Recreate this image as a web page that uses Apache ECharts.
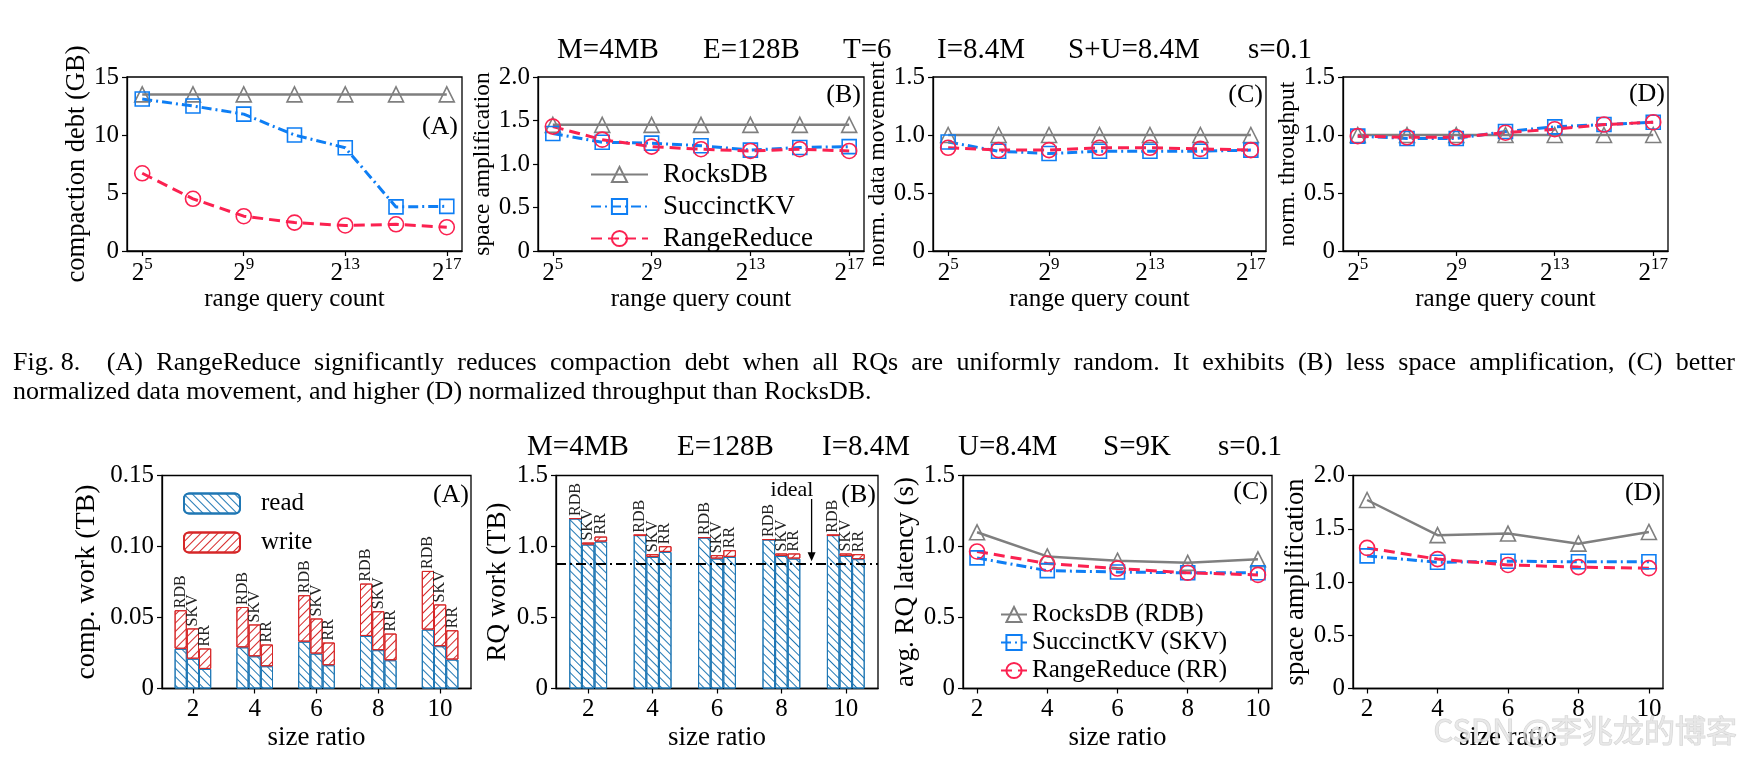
<!DOCTYPE html>
<html>
<head>
<meta charset="utf-8">
<script src="https://cdn.jsdelivr.net/npm/echarts@6/dist/echarts.min.js"></script>
<style>
html, body { margin: 0; padding: 0; background: #fff; }
#main { width: 1740px; height: 760px; }
</style>
</head>
<body>
<div id="main"></div>
<script>
// ---- data: top row, x = log2(range query count) ----
var rqExp = [5, 7, 9, 11, 13, 15, 17];
var debtRocks = [13.5, 13.5, 13.5, 13.5, 13.5, 13.5, 13.5];
var debtSkv = [13.1, 12.5, 11.8, 10.0, 8.9, 3.8, 3.85];
var debtRr = [6.7, 4.5, 3.0, 2.45, 2.2, 2.3, 2.05];
var spaceRocks = [1.45, 1.45, 1.45, 1.45, 1.45, 1.45, 1.45];
var spaceSkv = [1.35, 1.25, 1.24, 1.21, 1.16, 1.19, 1.2];
var spaceRr = [1.43, 1.28, 1.2, 1.17, 1.15, 1.17, 1.15];
var moveRocks = [1.0, 1.0, 1.0, 1.0, 1.0, 1.0, 1.0];
var moveSkv = [0.94, 0.86, 0.84, 0.86, 0.86, 0.86, 0.87];
var moveRr = [0.89, 0.87, 0.87, 0.89, 0.89, 0.88, 0.87];
var tputRocks = [1.0, 1.0, 1.0, 1.0, 1.0, 1.0, 1.0];
var tputSkv = [0.99, 0.97, 0.97, 1.03, 1.07, 1.09, 1.11];
var tputRr = [0.99, 0.98, 0.98, 1.02, 1.05, 1.09, 1.11];

// ---- data: bottom row, size ratio ----
var sizeRatio = [2, 4, 6, 8, 10];
var sizeCats = ['2', '4', '6', '8', '10'];
var compReadRdb = [0.028, 0.029, 0.033, 0.037, 0.0415];
var compWriteRdb = [0.0271, 0.0284, 0.0327, 0.0369, 0.0413];
var compReadSkv = [0.021, 0.0227, 0.0246, 0.027, 0.0298];
var compWriteSkv = [0.0213, 0.0224, 0.0247, 0.0274, 0.0294];
var compReadRr = [0.0138, 0.0157, 0.0164, 0.0199, 0.0204];
var compWriteRr = [0.0144, 0.0153, 0.016, 0.0188, 0.0206];
var rqReadRdb = [1.197, 1.08, 1.063, 1.049, 1.08];
var rqWriteRdb = [0, 0, 0, 0, 0];
var rqReadSkv = [1.014, 0.927, 0.915, 0.934, 0.934];
var rqWriteSkv = [0.014, 0.019, 0.024, 0.017, 0.017];
var rqReadRr = [1.035, 0.962, 0.927, 0.915, 0.911];
var rqWriteRr = [0.035, 0.04, 0.047, 0.036, 0.035];
var rqIdeal = 0.875;
var latRocks = [1.1, 0.93, 0.9, 0.885, 0.91];
var latSkv = [0.92, 0.83, 0.82, 0.815, 0.815];
var latRr = [0.965, 0.88, 0.845, 0.815, 0.8];
var ampRocks = [1.77, 1.44, 1.455, 1.36, 1.47];
var ampSkv = [1.245, 1.185, 1.195, 1.19, 1.19];
var ampRr = [1.32, 1.215, 1.16, 1.14, 1.13];

var SERIF = '"Liberation Serif", "DejaVu Serif", serif';
var GRAY = '#7f7f7f', BLUE = '#0e7ef4', RED = '#fb2150';
var READC = '#1f77b4', WRITEC = '#d62728';

var styles = {
    rocks: { color: GRAY, symbol: 'triangle', type: 'solid', width: 2.5, size: 15 },
    skv: { color: BLUE, symbol: 'rect', type: [10, 4, 2, 4], width: 3, size: 14 },
    rr: { color: RED, symbol: 'circle', type: [11, 6], width: 3, size: 15 }
};

function lineSeries(name, st, xs, ys, idx) {
    return {
        type: 'line', name: name, xAxisIndex: idx, yAxisIndex: idx,
        data: xs.map(function (x, i) { return [x, ys[i]]; }),
        symbol: st.symbol, symbolSize: st.size, color: st.color,
        lineStyle: { color: st.color, width: st.width, type: st.type },
        itemStyle: { color: 'rgba(255,255,255,0)', borderColor: st.color, borderWidth: 1.6 },
        emphasis: { disabled: true }, animation: false
    };
}

function hatch(color, rot) {
    return { symbol: 'rect', symbolSize: 1, dashArrayX: [1, 0], dashArrayY: [1, 5], rotation: rot, color: color };
}

function barSeries(name, stack, vals, idx, bw, label) {
    var isRead = name === 'read';
    var c = isRead ? READC : WRITEC;
    var s = {
        type: 'bar', name: name, stack: stack, xAxisIndex: idx, yAxisIndex: idx,
        data: vals, barWidth: bw, barGap: '0%',
        itemStyle: { color: '#fff', borderColor: c, borderWidth: 1, decal: hatch(c, isRead ? Math.PI / 4 : -Math.PI / 4) },
        emphasis: { disabled: true }, animation: false
    };
    if (label) {
        s.label = {
            show: true, position: 'top', rotate: 90, align: 'left', verticalAlign: 'middle',
            distance: 2, formatter: label, fontSize: 16, fontFamily: SERIF, color: '#222'
        };
    }
    return s;
}

var grids = [
    { left: 127, top: 77, width: 335, height: 174 },
    { left: 538, top: 77, width: 326, height: 174 },
    { left: 933, top: 77, width: 333, height: 174 },
    { left: 1343, top: 77, width: 325, height: 174 },
    { left: 162, top: 475.5, width: 309, height: 213 },
    { left: 556, top: 475.5, width: 322, height: 213 },
    { left: 963, top: 475.5, width: 309, height: 213 },
    { left: 1353, top: 475.5, width: 310, height: 213 }
].map(function (g) {
    g.show = true; g.borderColor = '#000'; g.borderWidth = 1.3; g.backgroundColor = 'transparent';
    return g;
});

var axisCommon = {
    axisLine: { show: true, onZero: false, lineStyle: { color: '#000', width: 1.3 } },
    axisTick: { show: true, inside: false, length: 5, lineStyle: { color: '#000', width: 1.2 } },
    splitLine: { show: false }
};

function xLog(idx) {
    return Object.assign({}, axisCommon, {
        type: 'value', gridIndex: idx, min: 4.4, max: 17.6,
        axisTick: Object.assign({}, axisCommon.axisTick, { customValues: [5, 9, 13, 17] }),
        axisLabel: {
            customValues: [5, 9, 13, 17], margin: 5, color: '#000',
            formatter: function (v) { return '{b|2}{s|' + v + '}'; },
            rich: {
                b: { fontSize: 25, fontFamily: SERIF, color: '#000', verticalAlign: 'bottom', lineHeight: 30 },
                s: { fontSize: 17, fontFamily: SERIF, color: '#000', verticalAlign: 'top', lineHeight: 30 }
            }
        },
        name: 'range query count', nameLocation: 'middle', nameGap: 33,
        nameTextStyle: { fontSize: 25, fontFamily: SERIF, color: '#000' }
    });
}

function xRatio(idx) {
    return Object.assign({}, axisCommon, {
        type: 'value', gridIndex: idx, min: 1.6, max: 10.4,
        axisTick: Object.assign({}, axisCommon.axisTick, { customValues: sizeRatio }),
        axisLabel: { customValues: sizeRatio, margin: 8, fontSize: 25, fontFamily: SERIF, color: '#000' },
        name: 'size ratio', nameLocation: 'middle', nameGap: 36,
        nameTextStyle: { fontSize: 27, fontFamily: SERIF, color: '#000' }
    });
}

function xCat(idx) {
    return Object.assign({}, axisCommon, {
        type: 'category', gridIndex: idx, data: sizeCats,
        axisTick: Object.assign({}, axisCommon.axisTick, { alignWithLabel: true }),
        axisLabel: { margin: 8, fontSize: 25, fontFamily: SERIF, color: '#000' },
        name: 'size ratio', nameLocation: 'middle', nameGap: 36,
        nameTextStyle: { fontSize: 27, fontFamily: SERIF, color: '#000' }
    });
}

function yAxis(idx, max, interval, dec, name, gap, nameSize) {
    return Object.assign({}, axisCommon, {
        type: 'value', gridIndex: idx, min: 0, max: max, interval: interval,
        axisLabel: {
            fontSize: 25, fontFamily: SERIF, color: '#000', margin: 8,
            formatter: function (v) { return v === 0 ? '0' : v.toFixed(dec); }
        },
        name: name, nameLocation: 'middle', nameGap: gap, nameRotate: 90,
        nameTextStyle: { fontSize: nameSize, fontFamily: SERIF, color: '#000' }
    });
}

var xAxes = [xLog(0), xLog(1), xLog(2), xLog(3), xCat(4), xCat(5), xRatio(6), xRatio(7)];
var yAxes = [
    yAxis(0, 15, 5, 0, 'compaction debt (GB)', 29, 26.5),
    yAxis(1, 2, 0.5, 1, 'space amplification', 41, 23.5),
    yAxis(2, 1.5, 0.5, 1, 'norm. data movement', 35, 23.5),
    yAxis(3, 1.5, 0.5, 1, 'norm. throughput', 41, 23.5),
    yAxis(4, 0.15, 0.05, 2, 'comp. work (TB)', 61, 28),
    yAxis(5, 1.5, 0.5, 1, 'RQ work (TB)', 45, 27),
    yAxis(6, 1.5, 0.5, 1, 'avg. RQ latency (s)', 41, 27),
    yAxis(7, 2, 0.5, 1, 'space amplification', 43, 26.5)
];

var series = [];
var topSets = [
    [debtRocks, debtSkv, debtRr],
    [spaceRocks, spaceSkv, spaceRr],
    [moveRocks, moveSkv, moveRr],
    [tputRocks, tputSkv, tputRr]
];
topSets.forEach(function (set, i) {
    series.push(lineSeries('RocksDB', styles.rocks, rqExp, set[0], i));
    series.push(lineSeries('SuccinctKV', styles.skv, rqExp, set[1], i));
    series.push(lineSeries('RangeReduce', styles.rr, rqExp, set[2], i));
});

// bottom A: compaction work
series.push(barSeries('read', 'compRdb', compReadRdb, 4, 12.2));
series.push(barSeries('write', 'compRdb', compWriteRdb, 4, 12.2, 'RDB'));
series.push(barSeries('read', 'compSkv', compReadSkv, 4, 12.2));
series.push(barSeries('write', 'compSkv', compWriteSkv, 4, 12.2, 'SKV'));
series.push(barSeries('read', 'compRr', compReadRr, 4, 12.2));
series.push(barSeries('write', 'compRr', compWriteRr, 4, 12.2, 'RR'));

// bottom B: range query work
var rqRdb = barSeries('read', 'rqRdb', rqReadRdb, 5, 12.6);
rqRdb.markLine = {
    silent: true, symbol: 'none', animation: false,
    label: { show: false },
    lineStyle: { color: '#000', width: 2, type: [10, 4, 2, 4] },
    data: [{ yAxis: rqIdeal }]
};
series.push(rqRdb);
series.push(barSeries('write', 'rqRdb', rqWriteRdb, 5, 12.6, 'RDB'));
series.push(barSeries('read', 'rqSkv', rqReadSkv, 5, 12.6));
series.push(barSeries('write', 'rqSkv', rqWriteSkv, 5, 12.6, 'SKV'));
series.push(barSeries('read', 'rqRr', rqReadRr, 5, 12.6));
series.push(barSeries('write', 'rqRr', rqWriteRr, 5, 12.6, 'RR'));

// bottom C, D
series.push(lineSeries('RocksDB (RDB)', styles.rocks, sizeRatio, latRocks, 6));
series.push(lineSeries('SuccinctKV (SKV)', styles.skv, sizeRatio, latSkv, 6));
series.push(lineSeries('RangeReduce (RR)', styles.rr, sizeRatio, latRr, 6));
series.push(lineSeries('RocksDB (RDB)', styles.rocks, sizeRatio, ampRocks, 7));
series.push(lineSeries('SuccinctKV (SKV)', styles.skv, sizeRatio, ampSkv, 7));
series.push(lineSeries('RangeReduce (RR)', styles.rr, sizeRatio, ampRr, 7));

// ---- text ----
function txt(x, y, s, size, align, extra) {
    var st = { x: x, y: y, text: s, fontSize: size, fontFamily: SERIF, fill: '#000', align: align || 'left', verticalAlign: 'middle' };
    if (extra) Object.assign(st, extra);
    return { type: 'text', silent: true, z: 100, style: st };
}

var graphics = [];
[[557, 'M=4MB'], [703, 'E=128B'], [843, 'T=6'], [937, 'I=8.4M'], [1068, 'S+U=8.4M'], [1248, 's=0.1']]
    .forEach(function (h) { graphics.push(txt(h[0], 50, h[1], 29)); });
[[527, 'M=4MB'], [677, 'E=128B'], [822, 'I=8.4M'], [958, 'U=8.4M'], [1103, 'S=9K'], [1218, 's=0.1']]
    .forEach(function (h) { graphics.push(txt(h[0], 447, h[1], 29)); });

[[458, 127, '(A)'], [861, 95, '(B)'], [1263, 95, '(C)'], [1665, 94, '(D)'],
 [469, 495, '(A)'], [876, 495, '(B)'], [1268, 492, '(C)'], [1661, 493, '(D)']]
    .forEach(function (p) { graphics.push(txt(p[0], p[1], p[2], 26, 'right')); });

graphics.push(txt(792, 490, 'ideal', 22, 'center'));

// caption (first line justified)
var capFont = '26px "Liberation Serif"';
var ctx = document.createElement('canvas').getContext('2d');
ctx.font = capFont;
var cap1 = ['Fig. 8.', '', '(A)', 'RangeReduce', 'significantly', 'reduces', 'compaction', 'debt', 'when', 'all', 'RQs', 'are',
    'uniformly', 'random.', 'It', 'exhibits', '(B)', 'less', 'space', 'amplification,', '(C)', 'better'];
var cap2 = 'normalized data movement, and higher (D) normalized throughput than RocksDB.';
var words = cap1.filter(function (w) { return w; });
var wsum = words.reduce(function (a, w) { return a + ctx.measureText(w).width; }, 0);
var gap = (1735 - 13 - wsum) / (cap1.length - 1);
var cx = 13;
cap1.forEach(function (w) {
    if (w) {
        graphics.push(txt(cx, 363, w, 26));
        cx += ctx.measureText(w).width;
    }
    cx += gap;
});
graphics.push(txt(13, 392, cap2, 26));

graphics.push({
    type: 'text', silent: true, z: 200,
    style: {
        x: 1737, y: 730, text: 'CSDN @李兆龙的博客', fontSize: 31,
        fontFamily: '"Noto Sans CJK SC", sans-serif', fill: 'rgba(228,228,228,0.8)',
        stroke: 'rgba(150,150,150,0.4)', lineWidth: 1, align: 'right', verticalAlign: 'middle'
    }
});

var legendText = function (size) { return { fontSize: size, fontFamily: SERIF, color: '#000' }; };

var option = {
    backgroundColor: '#fff',
    animation: false,
    grid: grids,
    xAxis: xAxes,
    yAxis: yAxes,
    legend: [
        {
            data: ['RocksDB', 'SuccinctKV', 'RangeReduce'], orient: 'vertical', left: 585, top: 156,
            itemWidth: 57, itemHeight: 19, itemGap: 5, selectedMode: false,
            textStyle: Object.assign(legendText(27), { padding: [0, 0, 0, 10] })
        },
        {
            data: ['read', 'write'], orient: 'vertical', left: 178, top: 486,
            itemWidth: 56, itemHeight: 20, itemGap: 14, selectedMode: false,
            textStyle: Object.assign(legendText(25), { padding: [0, 0, 0, 16] })
        },
        {
            data: ['RocksDB (RDB)', 'SuccinctKV (SKV)', 'RangeReduce (RR)'], orient: 'vertical', left: 995, top: 597,
            itemWidth: 26, itemHeight: 19, itemGap: 3, selectedMode: false, textStyle: legendText(25)
        }
    ],
    series: series,
    graphic: graphics
};

var chartDom = document.getElementById('main');
var myChart = echarts.init(chartDom);
myChart.setOption(option);

// arrow pointing to the ideal line in bottom (B)
var g5 = grids[5];
var ax = g5.left + g5.width * 0.8 - 2;
var ay = myChart.convertToPixel({ yAxisIndex: 5 }, rqIdeal);
graphics.push({ type: 'line', silent: true, z: 100, shape: { x1: ax, y1: 499, x2: ax, y2: ay - 10 }, style: { stroke: '#000', lineWidth: 1.3 } });
graphics.push({ type: 'polygon', silent: true, z: 100, shape: { points: [[ax - 4, ay - 12], [ax + 4, ay - 12], [ax, ay - 3]] }, style: { fill: '#000' } });
myChart.setOption({ graphic: graphics });
</script>
</body>
</html>
